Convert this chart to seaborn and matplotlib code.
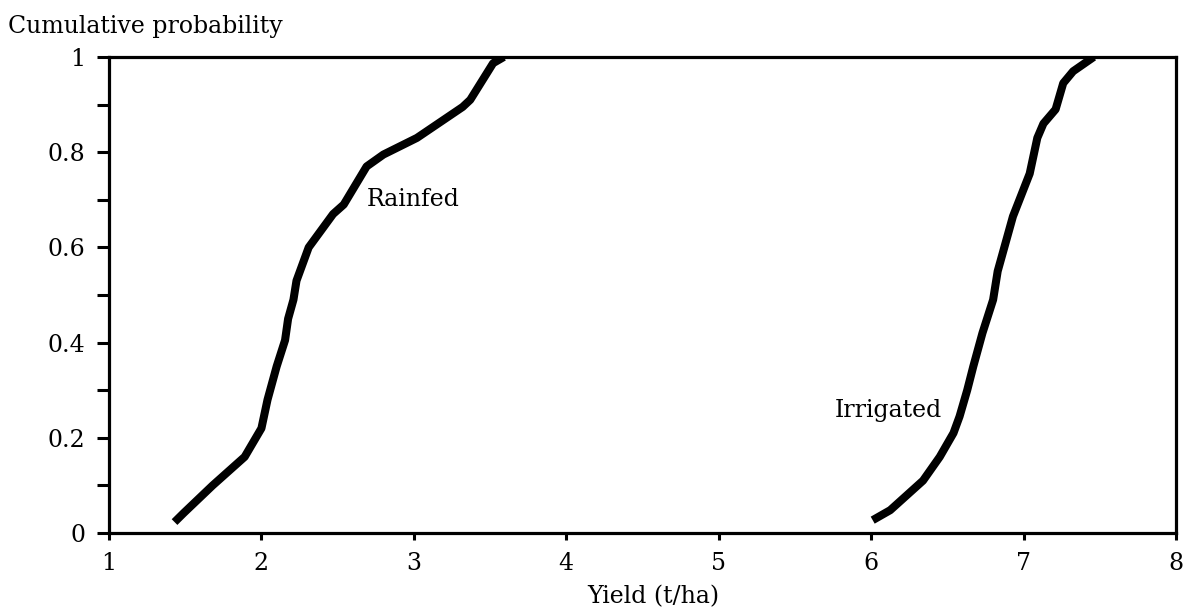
import numpy as np
import pandas as pd
import matplotlib
matplotlib.use("Agg")
import matplotlib.pyplot as plt
import seaborn as sns
from matplotlib.ticker import MultipleLocator

# Data
rainfed_yield = [1.43, 1.49, 1.68, 1.89, 1.945, 2.00, 2.04, 2.10, 2.155, 2.175, 2.21,
                 2.23, 2.31, 2.47, 2.54, 2.69, 2.80, 3.02, 3.32, 3.37, 3.52, 3.59]
rainfed_prob = [0.023, 0.042, 0.10, 0.16, 0.19, 0.22, 0.28, 0.35, 0.405, 0.45, 0.49,
                0.53, 0.60, 0.67, 0.69, 0.77, 0.795, 0.83, 0.895, 0.91, 0.987, 1.0]
irrigated_yield = [6.01, 6.125, 6.34, 6.45, 6.54, 6.58, 6.63, 6.67, 6.73, 6.80,
                   6.83, 6.93, 7.04, 7.09, 7.13, 7.21, 7.26, 7.325, 7.46]
irrigated_prob = [0.027, 0.048, 0.11, 0.16, 0.21, 0.245, 0.30, 0.35, 0.42, 0.49,
                  0.55, 0.665, 0.755, 0.83, 0.86, 0.89, 0.945, 0.97, 1.0]
x_ticks = [1, 2, 3, 4, 5, 6, 7, 8]
y_ticks = [0, 0.2, 0.4, 0.6, 0.8, 1]
y_tick_labels = ["0", "0.2", "0.4", "0.6", "0.8", "1"]

df = pd.concat([
    pd.DataFrame({"Yield": rainfed_yield, "Prob": rainfed_prob, "Series": "Rainfed"}),
    pd.DataFrame({"Yield": irrigated_yield, "Prob": irrigated_prob, "Series": "Irrigated"}),
], ignore_index=True)

sns.set_style("ticks")
plt.rcParams["font.family"] = ["DejaVu Serif"]
plt.rcParams["text.color"] = "black"
plt.rcParams["xtick.color"] = "black"
plt.rcParams["ytick.color"] = "black"
plt.rcParams["xtick.labelcolor"] = "black"
plt.rcParams["ytick.labelcolor"] = "black"

FS = 17

fig = plt.figure(figsize=(11.86, 6.10), dpi=100)
ax = fig.add_axes([0.0919, 0.1262, 0.8997, 0.7804])

sns.lineplot(data=df, x="Yield", y="Prob", units="Series", estimator=None, sort=False,
             color="black", linewidth=5.8, ax=ax, legend=False)
for ln in ax.get_lines():
    ln.set_solid_joinstyle("round")
    ln.set_solid_capstyle("butt")

ax.set_xlim(1, 8)
ax.set_ylim(0, 1)
ax.set_xticks(x_ticks)
ax.set_xticklabels([str(t) for t in x_ticks], fontsize=FS)
ax.set_yticks(y_ticks)
ax.set_yticklabels(y_tick_labels, fontsize=FS)
ax.yaxis.set_minor_locator(MultipleLocator(0.1))

for s in ax.spines.values():
    s.set_visible(True)
    s.set_linewidth(2.3)
    s.set_color("black")

ax.tick_params(axis="y", which="both", direction="out", length=9, width=2.2, pad=8)
ax.tick_params(axis="x", which="major", direction="out", length=5, width=2.2, pad=9)

ax.set_xlabel("")
ax.set_ylabel("")
fig.text(0.5506, 0.0213, "Yield (t/ha)", fontsize=FS, ha="center", va="center")
fig.text(0.007, 0.957, "Cumulative probability", fontsize=FS, ha="left", va="center")

ax.text(2.69, 0.70, "Rainfed", fontsize=FS, ha="left", va="center")
ax.text(5.76, 0.258, "Irrigated", fontsize=FS, ha="left", va="center")

fig.savefig("out.png", dpi=100, facecolor="white")
